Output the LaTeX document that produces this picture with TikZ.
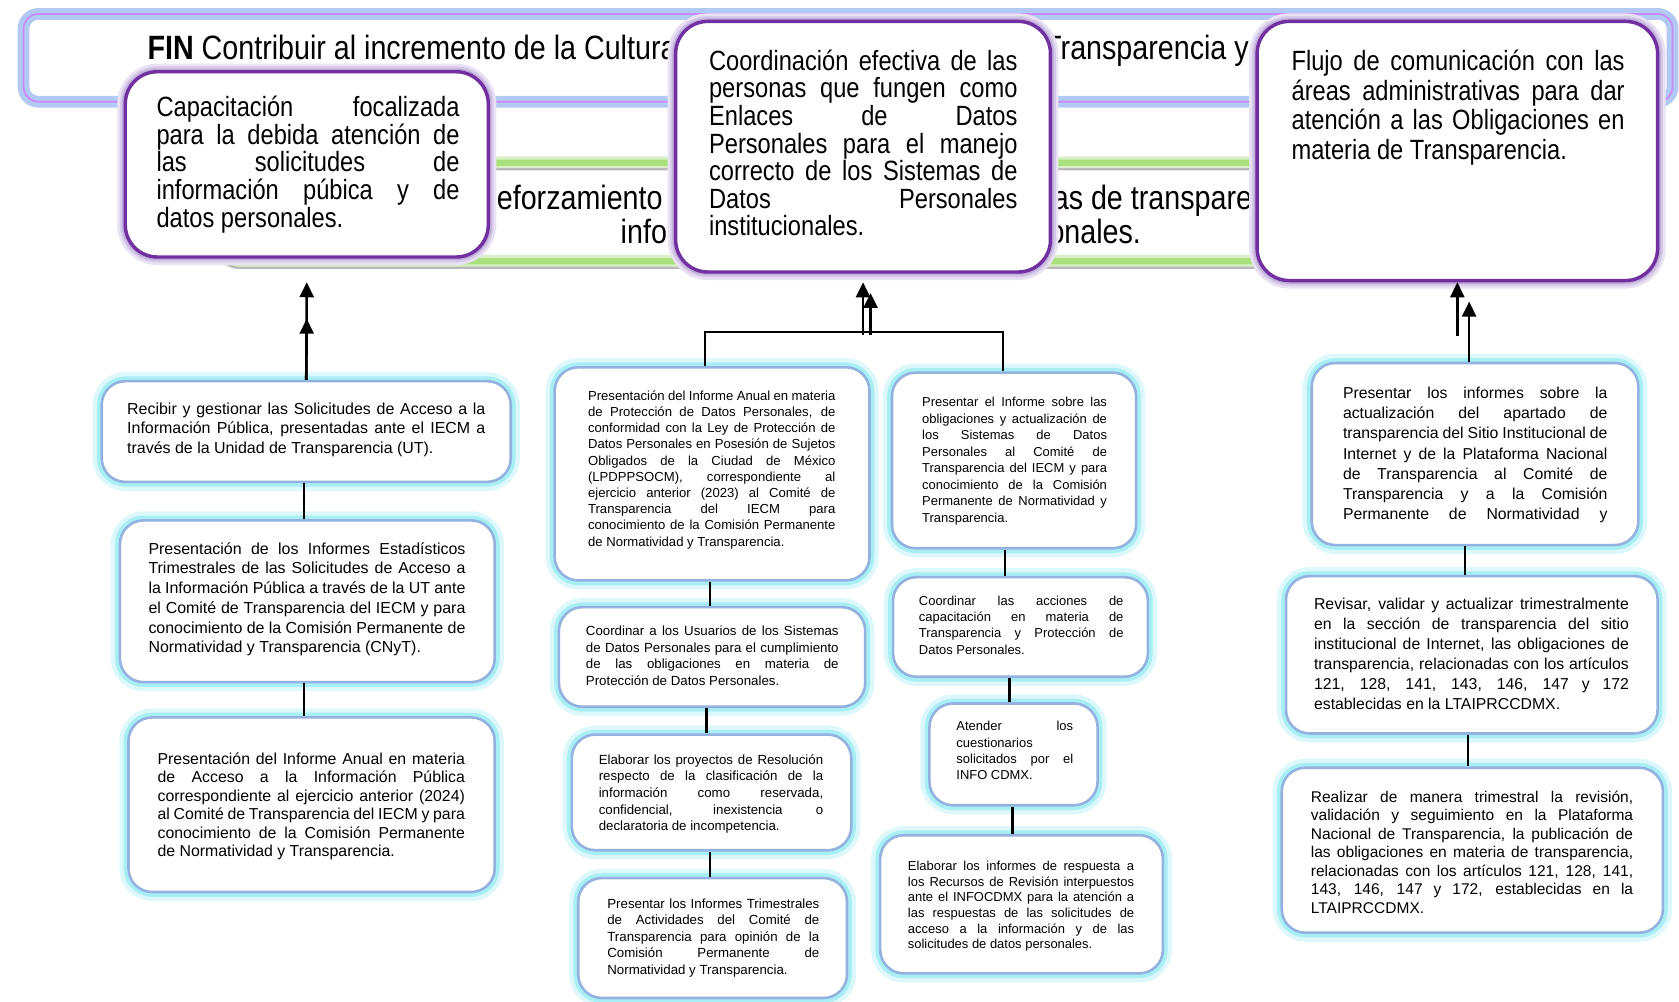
\documentclass[tikz,border=0pt]{standalone}
\usepackage{fontspec}
\setmainfont{Liberation Sans}
\newfontfamily\narrowf[FakeStretch=0.85]{Liberation Sans}
\usetikzlibrary{arrows.meta,calc}
\definecolor{topc}{HTML}{7030A0}
\definecolor{topglow}{HTML}{9C7CC8}
\definecolor{actc}{HTML}{93B2E0}
\definecolor{actglow}{HTML}{A8EEF5}
\definecolor{finblue}{HTML}{8FB2EE}
\definecolor{finpurple}{HTML}{C98AF5}
\definecolor{greenc}{HTML}{A8E07C}
\newcommand\tb[5]{\vtop{\hsize=#2pt\relax #1\fontsize{#3}{#4}\selectfont\parindent=0pt\lineskiplimit=-100pt\lineskip=0pt\relax #5}}
\newcommand\jl[1]{\hbox to\hsize{#1}}
\newcommand\nl[1]{\hbox{#1}}
\newcommand\gfont{\narrowf\fontsize{31.5}{36}\selectfont}
\tikzset{
  topbox/.style={draw=topc, line width=3.2pt, fill=white, rounded corners=30pt, inner sep=0pt,
    preaction={draw=topglow!22, line width=15pt},
    preaction={draw=topglow!42, line width=10pt},
    preaction={draw=topglow!65, line width=6pt}},
  actbox/.style={draw=actc, line width=2.4pt, fill=white, rounded corners=22pt, inner sep=0pt,
    preaction={draw=actglow!40, line width=17pt},
    preaction={draw=actglow, line width=9pt}},
  conn/.style={line width=2.4pt, draw=black},
  bracket/.style={line width=2pt, draw=black},
  arr/.style={conn, -{Triangle[length=14pt,width=13pt]}},
  txt/.style={anchor=base west, inner sep=0pt, text=black},
}
\begin{document}
\begin{tikzpicture}[x=1pt,y=-1pt]
\fill[white] (0,0) rectangle (1568,935);
\useasboundingbox (0,0) rectangle (1568,935);

% FIN banner
\draw[line width=11pt, draw=finblue!70, rounded corners=14pt, fill=white] (22,13) rectangle (1562,95);
\draw[line width=1.6pt, draw=finpurple, rounded corners=14pt] (22,13) rectangle (1562,95);
% green banner
\fill[white, rounded corners=14pt] (205,152) rectangle (1200,244);
\draw[line width=12pt, draw=greenc!45, rounded corners=14pt] (205,152) rectangle (1200,244);
\draw[line width=6pt, draw=greenc, rounded corners=14pt] (205,152) rectangle (1200,244);
\draw[line width=2.2pt, draw=gray!55, rounded corners=14pt, shift={(3,6)}] (205,152) rectangle (1200,244);

\node[txt] (fin1) at (137.6,56) {\gfont\textbf{FIN} Contribuir al incremento de la Cultura};
\node[txt] (fin2) at (975,56) {\gfont Transparencia y};
\node[txt, anchor=base east] (g1) at (619,196) {\gfont Reforzamiento};
\node[txt] (g2) at (983,196) {\gfont as de transpare};
\node[txt] (g3) at (579.5,227) {\gfont infor};
\node[txt] (g4) at (979,227) {\gfont onales.};

% top boxes
\node[topbox, minimum width=339pt, minimum height=173pt] (A) at (286.5,153.5) {};
\node[topbox, minimum width=350pt, minimum height=234pt] (B) at (806,137) {};
\node[topbox, minimum width=374pt, minimum height=242pt] (C) at (1361,141) {};

\node[txt] (tA) at (146,108.5) {\tb{\narrowf}{283}{26}{26}{%
\jl{Capacitación focalizada}
\jl{para la debida atención de}
\jl{las solicitudes de}
\jl{información púbica y de}
\nl{datos personales.}}};
\node[txt] (tB) at (662,65.8) {\tb{\narrowf}{288}{26}{25.7}{%
\jl{Coordinación efectiva de las}
\jl{personas que fungen como}
\jl{Enlaces de Datos}
\jl{Personales para el manejo}
\jl{correcto de los Sistemas de}
\jl{Datos Personales}
\nl{institucionales.}}};
\node[txt] (tC) at (1206,65.8) {\tb{\narrowf}{311}{26}{27.8}{%
\jl{Flujo de comunicación con las}
\jl{áreas administrativas para dar}
\jl{atención a las Obligaciones en}
\nl{materia de Transparencia.}}};

% activity boxes
\node[actbox, minimum width=382pt, minimum height=94pt] (L1) at (286,403) {};
\node[actbox, minimum width=350pt, minimum height=151pt] (L2) at (287,561.5) {};
\node[actbox, minimum width=342pt, minimum height=163pt] (L3) at (291,751.5) {};
\node[actbox, minimum width=294pt, minimum height=199pt] (M1) at (665,442.5) {};
\node[actbox, minimum width=286pt, minimum height=93pt] (M2) at (665,613.5) {};
\node[actbox, minimum width=261pt, minimum height=108pt] (M3) at (664.5,740) {};
\node[actbox, minimum width=251pt, minimum height=112pt] (M4) at (665.5,876) {};
\node[actbox, minimum width=228pt, minimum height=164pt] (N1) at (947,430) {};
\node[actbox, minimum width=238pt, minimum height=93pt] (N2) at (953,585.5) {};
\node[actbox, minimum width=157pt, minimum height=95pt] (N3) at (946.5,704.5) {};
\node[actbox, minimum width=264pt, minimum height=129pt] (N4) at (954,844.5) {};
\node[actbox, minimum width=305pt, minimum height=170pt] (R1) at (1377.5,424) {};
\node[actbox, minimum width=347pt, minimum height=147pt] (R2) at (1374.5,611.5) {};
\node[actbox, minimum width=356pt, minimum height=154pt] (R3) at (1375,794) {};

\node[txt] (tL1) at (118.6,387) {\tb{}{334.5}{14.9}{18.2}{%
\jl{Recibir y gestionar las Solicitudes de Acceso a la}
\jl{Información Pública, presentadas ante el IECM a}
\nl{través de la Unidad de Transparencia (UT).}}};
\node[txt] (tL2) at (138.5,517.6) {\tb{}{296}{14.9}{18.4}{%
\jl{Presentación de los Informes Estadísticos}
\jl{Trimestrales de las Solicitudes de Acceso a}
\jl{la Información Pública a través de la UT ante}
\jl{el Comité de Transparencia del IECM y para}
\jl{conocimiento de la Comisión Permanente de}
\nl{Normatividad y Transparencia (CNyT).}}};
\node[txt] (tL3) at (147,713.7) {\tb{}{287}{14.8}{17.25}{%
\jl{Presentación del Informe Anual en materia}
\jl{de Acceso a la Información Pública}
\jl{correspondiente al ejercicio anterior (2024)}
\jl{al Comité de Transparencia del IECM y para}
\jl{conocimiento de la Comisión Permanente}
\nl{de Normatividad y Transparencia.}}};
\node[txt] (tM1) at (549,374) {\tb{}{231}{12.25}{15.1}{%
\jl{Presentación del Informe Anual en materia}
\jl{de Protección de Datos Personales, de}
\jl{conformidad con la Ley de Protección de}
\jl{Datos Personales en Posesión de Sujetos}
\jl{Obligados de la Ciudad de México}
\jl{(LPDPPSOCM), correspondiente al}
\jl{ejercicio anterior (2023) al Comité de}
\jl{Transparencia del IECM para}
\jl{conocimiento de la Comisión Permanente}
\nl{de Normatividad y Transparencia.}}};
\node[txt] (tM2) at (547,593.3) {\tb{}{236}{12.4}{15.6}{%
\jl{Coordinar a los Usuarios de los Sistemas}
\jl{de Datos Personales para el cumplimiento}
\jl{de las obligaciones en materia de}
\nl{Protección de Datos Personales.}}};
\node[txt] (tM3) at (559,713.5) {\tb{}{209.6}{12.4}{15.6}{%
\jl{Elaborar los proyectos de Resolución}
\jl{respecto de la clasificación de la}
\jl{información como reservada,}
\jl{confidencial, inexistencia o}
\nl{declaratoria de incompetencia.}}};
\node[txt] (tM4) at (567,848) {\tb{}{198}{12.4}{15.4}{%
\jl{Presentar los Informes Trimestrales}
\jl{de Actividades del Comité de}
\jl{Transparencia para opinión de la}
\jl{Comisión Permanente de}
\nl{Normatividad y Transparencia.}}};
\node[txt] (tN1) at (861,380) {\tb{}{172.6}{12.1}{15.4}{%
\jl{Presentar el Informe sobre las}
\jl{obligaciones y actualización de}
\jl{los Sistemas de Datos}
\jl{Personales al Comité de}
\jl{Transparencia del IECM y para}
\jl{conocimiento de la Comisión}
\jl{Permanente de Normatividad y}
\nl{Transparencia.}}};
\node[txt] (tN2) at (858,565) {\tb{}{191}{12.1}{15.3}{%
\jl{Coordinar las acciones de}
\jl{capacitación en materia de}
\jl{Transparencia y Protección de}
\nl{Datos Personales.}}};
\node[txt] (tN3) at (893,682.5) {\tb{}{109}{12.1}{15.3}{%
\jl{Atender los}
\nl{cuestionarios}
\jl{solicitados por el}
\nl{INFO CDMX.}}};
\node[txt] (tN4) at (847.7,813) {\tb{}{211.3}{12.1}{14.6}{%
\jl{Elaborar los informes de respuesta a}
\jl{los Recursos de Revisión interpuestos}
\jl{ante el INFOCDMX para la atención a}
\jl{las respuestas de las solicitudes de}
\jl{acceso a la información y de las}
\nl{solicitudes de datos personales.}}};
\node[txt] (tR1) at (1254,372) {\tb{}{247}{14.75}{18.9}{%
\jl{Presentar los informes sobre la}
\jl{actualización del apartado de}
\jl{transparencia del Sitio Institucional de}
\jl{Internet y de la Plataforma Nacional}
\jl{de Transparencia al Comité de}
\jl{Transparencia y a la Comisión}
\jl{Permanente de Normatividad y}}};
\node[txt] (tR2) at (1227,569.5) {\tb{}{294}{14.75}{18.7}{%
\jl{Revisar, validar y actualizar trimestralmente}
\jl{en la sección de transparencia del sitio}
\jl{institucional de Internet, las obligaciones de}
\jl{transparencia, relacionadas con los artículos}
\jl{121, 128, 141, 143, 146, 147 y 172}
\nl{establecidas en la LTAIPRCCDMX.}}};
\node[txt] (tR3) at (1224,749.5) {\tb{}{301}{14.5}{17.2}{%
\jl{Realizar de manera trimestral la revisión,}
\jl{validación y seguimiento en la Plataforma}
\jl{Nacional de Transparencia, la publicación de}
\jl{las obligaciones en materia de transparencia,}
\jl{relacionadas con los artículos 121, 128, 141,}
\jl{143, 146, 147 y 172, establecidas en la}
\nl{LTAIPRCCDMX.}}};

% vertical connectors
\draw[conn] ($(L1.south)+(-2,0)$) -- ($(L1.south |- L2.north)+(-2,0)$);
\draw[conn] ($(L2.south)+(-3,0)$) -- ($(L2.south |- L3.north)+(-3,0)$);
\draw[conn] ($(M1.south)+(-2,0)$) -- ($(M1.south |- M2.north)+(-2,0)$);
\draw[conn] ($(M2.south)+(-5,0)$) -- ($(M2.south |- M3.north)+(-5,0)$);
\draw[conn] ($(M3.south)+(-1.5,0)$) -- ($(M3.south |- M4.north)+(-1.5,0)$);
\draw[conn] ($(N1.south)+(-8.5,0)$) -- ($(N1.south |- N2.north)+(-8.5,0)$);
\draw[conn] ($(N2.south)+(-10,0)$) -- ($(N2.south |- N3.north)+(-10,0)$);
\draw[conn] ($(N3.south)+(-1,0)$) -- ($(N3.south |- N4.north)+(-1,0)$);
\draw[conn] ($(R1.south)+(-9.5,0)$) -- ($(R1.south |- R2.north)+(-9.5,0)$);
\draw[conn] ($(R2.south)+(-3.5,0)$) -- ($(R2.south |- R3.north)+(-3.5,0)$);

% arrows to top boxes
\draw[arr] (L1.north) -- ($(A.south)+(0,22)$);
\draw[arr] (L1.north) -- ($(A.south)+(0,56)$);

\draw[bracket] ($(M1.north)+(-7,0)$) |- ($(N1.north)+(-10,-37)$) -- ($(N1.north)+(-10,0)$);
\draw[arr] ($(B.south)+(0,57)$) -- ($(B.south)+(0,8)$);
\draw[arr] ($(B.south)+(7,57)$) -- ($(B.south)+(7,18)$);

\draw[arr] ($(C.south)+(0,50)$) -- (C.south);
\draw[arr] ($(R1.north)+(-5.5,0)$) -- ($(C.south)+(11,18)$);
\end{tikzpicture}
\end{document}
